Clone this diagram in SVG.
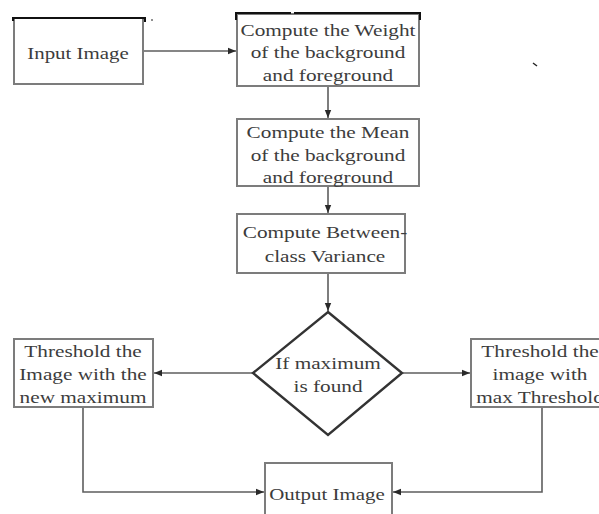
<svg xmlns="http://www.w3.org/2000/svg" width="599" height="514" viewBox="0 0 599 514">
  <defs>
    <marker id="arrow" viewBox="0 0 8 8" refX="8" refY="4" markerWidth="8" markerHeight="8" markerUnits="userSpaceOnUse" orient="auto">
      <path d="M0,0.8 L8,4 L0,7.2 Z" fill="#2a2a2a"/>
    </marker>
  </defs>
  <style>
    .box { fill: #ffffff; stroke: #7c7c7c; stroke-width: 2; }
    .diamond { fill: #ffffff; stroke: #333333; stroke-width: 2.4; }
    .edge { fill: none; stroke: #5e5e5e; stroke-width: 1.6; marker-end: url(#arrow); }
    .ink { fill: none; stroke: #111111; stroke-width: 2; }
    text { font-family: "Liberation Serif", "Times New Roman", serif; font-size: 17px; fill: #3c3c3c; text-anchor: middle; }
  </style>
  <rect width="599" height="514" fill="#ffffff"/>

  <!-- connectors -->
  <g id="connectors">
    <path class="edge" d="M143,51 L236,51"/>
    <path class="edge" d="M328,87 L328,118"/>
    <path class="edge" d="M328,187 L328,213"/>
    <path class="edge" d="M328,274 L328,311"/>
    <path class="edge" d="M253,373 L154,373"/>
    <path class="edge" d="M403,373 L470,373"/>
    <path class="edge" d="M83,408 L83,492 L264,492"/>
    <path class="edge" d="M542,408 L542,492 L393,492"/>
  </g>

  <g id="input-image">
    <rect class="box" x="14" y="18" width="129" height="66"/>
    <path class="ink" d="M13,21 L13,18 L145,18 L145,22"/>
    <text transform="translate(78 0) scale(1.23 1)" y="59">Input Image</text>
  </g>

  <g id="compute-weight">
    <rect class="box" x="237" y="14" width="182" height="72"/>
    <path class="ink" d="M236,20 L236,13 L291,13 M294,13 L420,13 L420,20"/>
    <text transform="translate(328 0) scale(1.25 1)" y="36">Compute the Weight</text>
    <text transform="translate(328 0) scale(1.25 1)" y="58">of the background</text>
    <text transform="translate(328 0) scale(1.25 1)" y="81">and foreground</text>
  </g>

  <g id="compute-mean">
    <rect class="box" x="237" y="119" width="182" height="67"/>
    <text transform="translate(328 0) scale(1.25 1)" y="138">Compute the Mean</text>
    <text transform="translate(328 0) scale(1.25 1)" y="161">of the background</text>
    <text transform="translate(328 0) scale(1.25 1)" y="183">and foreground</text>
  </g>

  <g id="between-class-variance">
    <rect class="box" x="237" y="214" width="168" height="59"/>
    <text transform="translate(325 0) scale(1.25 1)" y="238">Compute Between-</text>
    <text transform="translate(325 0) scale(1.25 1)" y="262">class Variance</text>
  </g>

  <g id="max-found">
    <polygon class="diamond" points="328,312 402,373 328,435 253,373"/>
    <text transform="translate(328 0) scale(1.25 1)" y="369">If maximum</text>
    <text transform="translate(328 0) scale(1.25 1)" y="392">is found</text>
  </g>

  <g id="threshold-new-max">
    <rect class="box" x="14" y="339" width="139" height="68"/>
    <text transform="translate(83 0) scale(1.25 1)" y="357">Threshold the</text>
    <text transform="translate(83 0) scale(1.25 1)" y="380">Image with the</text>
    <text transform="translate(83 0) scale(1.25 1)" y="403">new maximum</text>
  </g>

  <g id="threshold-max">
    <rect class="box" x="471" y="339" width="140" height="68"/>
    <text transform="translate(540 0) scale(1.25 1)" y="357">Threshold the</text>
    <text transform="translate(540 0) scale(1.25 1)" y="380">image with</text>
    <text transform="translate(540 0) scale(1.25 1)" y="403">max Threshold</text>
  </g>

  <g id="output-image">
    <rect class="box" x="265" y="463" width="127" height="60"/>
    <text transform="translate(327 0) scale(1.23 1)" y="500">Output Image</text>
  </g>

  <!-- stray pen marks -->
  <path d="M151,20 L153,20" stroke="#222" stroke-width="1"/>
  <path d="M533,63 L537,66" stroke="#222" stroke-width="1.4"/>
</svg>
